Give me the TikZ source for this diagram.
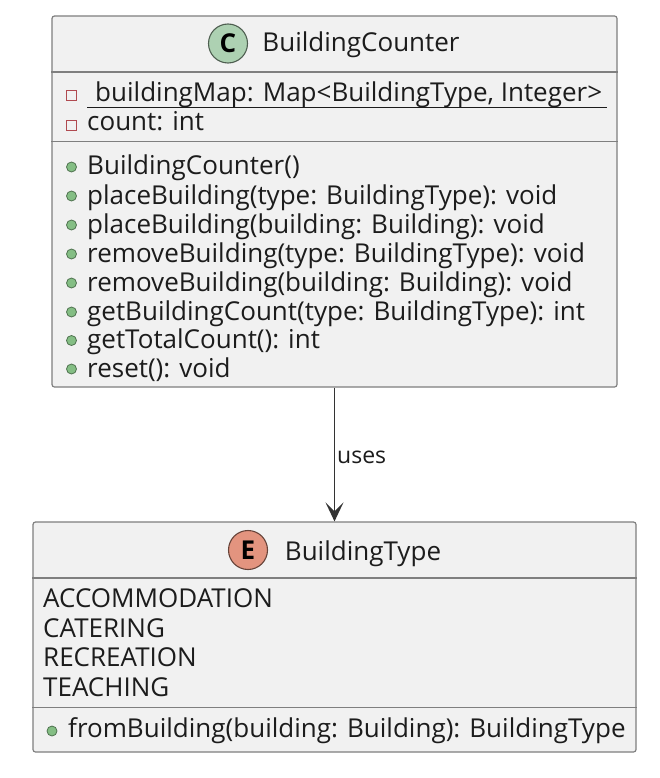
\documentclass[tikz,border=0pt]{standalone}
\usepackage{fontspec}
\setmainfont{Open Sans}
\usetikzlibrary{arrows.meta}
\definecolor{boxfill}{HTML}{F1F1F1}
\definecolor{boxline}{HTML}{7F7F7F}
\definecolor{ink}{HTML}{1C1C1C}
\definecolor{cgreen}{HTML}{ADD1B2}
\definecolor{eorange}{HTML}{E3947F}
\definecolor{dotgreen}{HTML}{84BE84}
\definecolor{privred}{HTML}{B04A50}
\tikzset{
  umlbox/.style={draw=boxline,fill=boxfill,line width=1.2pt,rounded corners=2.5pt,inner sep=0pt,minimum width=#1},
  sep/.style={draw=boxline,line width=1.1pt},
  member/.style={anchor=base west,inner sep=0pt,text=ink,font=\fontsize{26}{28}\selectfont},
  title/.style={anchor=base,inner sep=0pt,text=ink,font=\fontsize{26}{28}\selectfont},
  badge/.style={circle,draw=#1!45!black,fill=#1,line width=1.1pt,minimum size=39pt,inner sep=0pt,text=black,font=\fontsize{26}{28}\selectfont\bfseries},
  pubdot/.style={circle,draw=dotgreen!60!black,fill=dotgreen,line width=.8pt,minimum size=10pt,inner sep=0pt},
  privsq/.style={rectangle,draw=privred,fill=boxfill,line width=1pt,minimum size=10pt,inner sep=0pt},
  rel/.style={draw=ink!90,line width=1.5pt,-{Stealth[inset=9pt,length=19pt,width=18pt]}}
}
\begin{document}
\begin{tikzpicture}[x=1pt,y=-1pt]
\useasboundingbox (0,0) rectangle (660,778);
\fill[white] (0,0) rectangle (660,778);
% class box
\node[umlbox=565pt,minimum height=371pt] (cls) at (334.5,201.5) {};
\draw[sep] (cls.west |- 0,72) -- (cls.east |- 0,72);
\draw[sep] (cls.west |- 0,141.5) -- (cls.east |- 0,141.5);
\node[badge=cgreen] (cb) at (228,43.5) {C};
\node[title] (ct) at (361,52) {BuildingCounter};
\node[privsq] (s1) at (71.5,96) {};
\node[member] (m1) at (95,102) {buildingMap: Map<BuildingType, Integer>};
\draw[draw=ink,line width=1.1pt] (87,107.5) -- (607,107.5);
\node[privsq] (s2) at (71.5,125.5) {};
\node[member] (m2) at (87,131) {count: int};
\foreach \n/\y/\t in {a/175/{BuildingCounter()},
  b/204/{placeBuilding(type: BuildingType): void},
  c/233/{placeBuilding(building: Building): void},
  d/262/{removeBuilding(type: BuildingType): void},
  e/291/{removeBuilding(building: Building): void},
  f/320/{getBuildingCount(type: BuildingType): int},
  g/348.5/{getTotalCount(): int},
  h/377/{reset(): void}}{
  \node[pubdot] (dot\n) at (71.5,\y-8) {};
  \node[member] (txt\n) at (87,\y) {\t};
}
% enum box
\node[umlbox=603pt,minimum height=230pt] (enm) at (334.5,637) {};
\draw[sep] (enm.west |- 0,578) -- (enm.east |- 0,578);
\draw[sep] (enm.west |- 0,707.5) -- (enm.east |- 0,707.5);
\node[badge=eorange] (eb) at (248,550) {E};
\node[title] (et) at (363,560) {BuildingType};
\node[member] (e1) at (43,607) {ACCOMMODATION};
\node[member] (e2) at (43,637) {CATERING};
\node[member] (e3) at (43,666) {RECREATION};
\node[member] (e4) at (43,696) {TEACHING};
\node[pubdot] (dotz) at (52,731) {};
\node[member] (z) at (68,737) {fromBuilding(building: Building): BuildingType};
% relation
\draw[rel] (cls) -- (enm);
\node[anchor=base west,inner sep=0pt,text=ink,font=\fontsize{23}{24}\selectfont] (lbl) at (337,463) {uses};
\end{tikzpicture}
\end{document}
